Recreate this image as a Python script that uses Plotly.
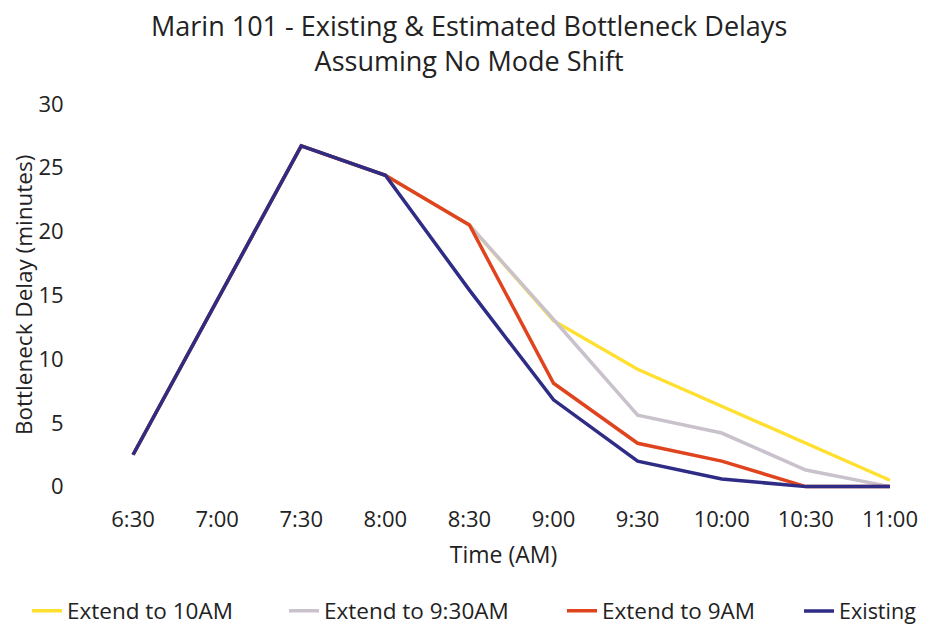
import plotly.graph_objects as go

times = ["6:30", "7:00", "7:30", "8:00", "8:30", "9:00", "9:30", "10:00", "10:30", "11:00"]
extend_10am = [2.5, 14.6, 26.7, 24.4, 20.5, 13.0, 9.2, 6.3, 3.4, 0.5]
extend_930am = [2.5, 14.6, 26.7, 24.4, 20.5, 13.1, 5.6, 4.2, 1.3, 0.0]
extend_9am = [2.5, 14.6, 26.7, 24.4, 20.5, 8.1, 3.4, 2.0, 0.0, 0.0]
existing = [2.5, 14.6, 26.7, 24.4, 15.4, 6.8, 2.0, 0.6, 0.0, 0.0]
y_ticks = [0, 5, 10, 15, 20, 25, 30]

series = [
    ("Extend to 10AM", extend_10am, "#FFE030", "legend"),
    ("Extend to 9:30AM", extend_930am, "#C9C2CC", "legend2"),
    ("Extend to 9AM", extend_9am, "#E0441E", "legend3"),
    ("Existing", existing, "#2F2C86", "legend4"),
]

FONT = "'Open Sans', Lato, sans-serif"
TXT = "#222222"
# the page adds an 8px body margin, so the figure is sized to fit the window
W, H = 918, 620
L, R, T, B = 83, 10, 92, 135
PW, PH = W - L - R, H - T - B

fig = go.Figure()
for name, vals, color, lg in series:
    fig.add_trace(go.Scatter(x=times, y=vals, mode="lines", name=name, legend=lg,
                             line=dict(color=color, width=3.5)))

legend_px = {"legend": (19, 22.5), "legend2": (276, 22.5), "legend3": (554, 22.5),
             "legend4": (791, 21.5)}
legend_cfg = {}
for key, (px, fs) in legend_px.items():
    legend_cfg[key] = dict(xref="container", yref="container", x=px / W, xanchor="left",
                           y=1 - 603 / H, yanchor="middle", orientation="h",
                           font=dict(size=fs, family=FONT, color=TXT),
                           bgcolor="rgba(0,0,0,0)")

fig.update_layout(
    width=W, height=H,
    paper_bgcolor="white", plot_bgcolor="white",
    font=dict(family=FONT, size=19, color=TXT),
    margin=dict(l=L, r=R, t=T, b=B),
    showlegend=True,
    annotations=[
        dict(text="Marin 101 - Existing & Estimated Bottleneck Delays<br>Assuming No Mode Shift",
             xref="paper", yref="paper", align="center",
             x=(461 - L) / PW, y=1 + (T - 35) / PH, xanchor="center", yanchor="middle",
             showarrow=False, font=dict(size=27, family=FONT, color=TXT)),
        dict(text="Bottleneck Delay (minutes)", xref="paper", yref="paper",
             x=(15 - L) / PW, y=1 - (287 - T) / PH, xanchor="center", yanchor="middle",
             textangle=-90, showarrow=False, font=dict(size=22.5, family=FONT, color=TXT)),
    ],
    xaxis=dict(type="category", range=[-0.5, 9.31], showgrid=False, showline=False,
               zeroline=False, ticks="", tickfont=dict(size=22), automargin=False,
               ticklabelstandoff=11,
               title=dict(text="Time (AM)", font=dict(size=23), standoff=14)),
    yaxis=dict(range=[-0.5, 30.3], tickvals=y_ticks, showgrid=False, automargin=False,
               showline=False, zeroline=False, ticks="outside", ticklen=22,
               tickcolor="rgba(0,0,0,0)", tickfont=dict(size=22)),
    **legend_cfg,
)

fig.write_html("out.html")
